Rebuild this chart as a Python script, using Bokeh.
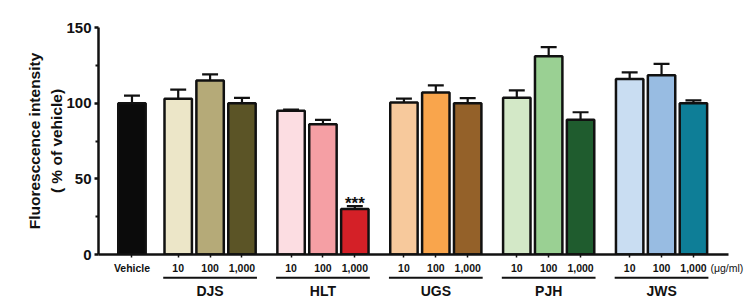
from bokeh.plotting import figure
from bokeh.layouts import column
from bokeh.models import Range1d, FixedTicker, ColumnDataSource
from bokeh.core.properties import value
from bokeh.embed import file_html
from bokeh.resources import INLINE

# ---- data -------------------------------------------------------------
groups = ["DJS", "HLT", "UGS", "PJH", "JWS"]
doses = ["10", "100", "1,000"]
unit_label = "(\u03bcg/ml)"

vehicle_mean = 100.0
vehicle_sem = 5.0

djs_mean = [103.0, 115.0, 100.0]
hlt_mean = [95.0, 86.0, 30.0]
ugs_mean = [100.5, 107.0, 100.0]
pjh_mean = [103.5, 131.0, 89.0]
jws_mean = [116.0, 118.5, 100.0]

djs_sem = [6.0, 4.0, 3.5]
hlt_sem = [0.8, 3.0, 2.0]
ugs_sem = [2.5, 4.8, 3.3]
pjh_sem = [5.0, 6.0, 5.0]
jws_sem = [4.4, 7.5, 1.8]

djs_sig = ["", "", ""]
hlt_sig = ["", "", "***"]
ugs_sig = ["", "", ""]
pjh_sig = ["", "", ""]
jws_sig = ["", "", ""]

vehicle_color = "#0b0b0b"
djs_colors = ["#ece6c8", "#b5aa78", "#5b5426"]
hlt_colors = ["#fcdde2", "#f59fa4", "#d42027"]
ugs_colors = ["#f7c99c", "#f9a54c", "#946129"]
pjh_colors = ["#d3e8c7", "#9ad093", "#1f5c2e"]
jws_colors = ["#c9ddf2", "#98bce2", "#0e7e97"]

# ---- layout of the bars along x (one bar slot = 100 units) ------------
SLOT = 100
FIRST_GROUP = 145      # vehicle -> first extract group
GROUP_STEP = 354       # three slots plus the gap between groups
BAR_W = 86
CAP_HALF = 25
X0, X1 = -105, 1871    # extent of the x baseline

W, H = 756, 300
LEFT, TOP = 98, 27
AXIS_PX = 630          # pixel length of the x baseline
TOP_H = 262            # chart panel; the label strip sits below it
AXIS_Y = 254           # canvas row of the baseline
INK = "#111111"
FONT = "Liberation Sans"

units_per_px = (X1 - X0) / AXIS_PX
X_END = X0 + (W - LEFT) * units_per_px   # frames run to the right edge

means = [djs_mean, hlt_mean, ugs_mean, pjh_mean, jws_mean]
sems = [djs_sem, hlt_sem, ugs_sem, pjh_sem, jws_sem]
sigs = [djs_sig, hlt_sig, ugs_sig, pjh_sig, jws_sig]
colors = [djs_colors, hlt_colors, ugs_colors, pjh_colors, jws_colors]

xs, tops, errs, fills, labels, stars = [0], [vehicle_mean], [vehicle_sem], [vehicle_color], ["Vehicle"], [""]
group_centers, group_lo, group_hi = [], [], []
for g, name in enumerate(groups):
    start = FIRST_GROUP + g * GROUP_STEP
    for i, d in enumerate(doses):
        xs.append(start + i * SLOT)
        tops.append(means[g][i])
        errs.append(sems[g][i])
        fills.append(colors[g][i])
        labels.append(d)
        stars.append(sigs[g][i])
    group_centers.append(start + SLOT)
    group_lo.append(start - 47)
    group_hi.append(start + 2 * SLOT + 47)

uppers = [t + e for t, e in zip(tops, errs)]
src = ColumnDataSource(dict(x=xs, top=tops, upper=uppers, fill=fills,
                            cap_l=[x - CAP_HALF for x in xs],
                            cap_r=[x + CAP_HALF for x in xs]))

# ---- main chart --------------------------------------------------------
p = figure(width=W, height=TOP_H, output_backend="svg", toolbar_location=None,
           x_range=Range1d(X0, X_END), y_range=Range1d(0, 150),
           min_border_left=LEFT, min_border_right=0, min_border_top=TOP,
           min_border_bottom=TOP_H - AXIS_Y)
p.outline_line_color = None
p.grid.visible = False

p.vbar(x="x", top="top", bottom=0, width=BAR_W, source=src,
       fill_color="fill", line_color=INK, line_width=2.5)

# upper error bars
p.segment(x0="x", y0="top", x1="x", y1="upper", source=src, line_color=INK, line_width=2.2)
p.segment(x0="cap_l", y0="upper", x1="cap_r", y1="upper", source=src, line_color=INK, line_width=2.2)

# significance marks
sig_x = [x for x, s in zip(xs, stars) if s]
sig_y = [u for u, s in zip(uppers, stars) if s]
sig_t = [s for s in stars if s]
p.text(x=sig_x, y=sig_y, text=sig_t, text_align="center", text_baseline="alphabetic",
       y_offset=-3, text_font=value(FONT), text_font_style="bold",
       text_font_size="17px", text_color=INK)

ya = p.yaxis[0]
ya.ticker = FixedTicker(ticks=[0, 50, 100, 150], minor_ticks=[25, 75, 125])
ya.axis_line_width = 2.5
ya.axis_line_color = INK
ya.major_tick_in = 0
ya.major_tick_out = 4
ya.major_tick_line_width = 2.5
ya.major_tick_line_color = INK
ya.minor_tick_in = 0
ya.minor_tick_out = 3
ya.minor_tick_line_width = 2
ya.minor_tick_line_color = INK
ya.major_label_text_font = FONT
ya.major_label_text_font_style = "bold"
ya.major_label_text_font_size = "15px"
ya.major_label_text_color = INK
ya.major_label_standoff = 3
ya.axis_label = "Fluoresccence intensity\n( % of vehicle)"
ya.axis_label_text_font = FONT
ya.axis_label_text_font_style = "bold"
ya.axis_label_text_font_size = "15.5px"
ya.axis_label_text_line_height = 1.3
ya.axis_label_text_color = INK
ya.axis_label_standoff = -2

# x axis: baseline with a short tick under each bar (labels go in the strip below)
xa = p.xaxis[0]
xa.bounds = (X0, X1)
xa.ticker = FixedTicker(ticks=[], minor_ticks=xs)
xa.axis_line_width = 2.5
xa.axis_line_color = INK
xa.major_tick_line_color = None
xa.minor_tick_in = 0
xa.minor_tick_out = 3
xa.minor_tick_line_width = 1.5
xa.minor_tick_line_color = INK

# ---- label strip under the chart --------------------------------------
strip_h = H - TOP_H
q = figure(width=W, height=strip_h, output_backend="svg", toolbar_location=None,
           x_range=Range1d(X0, X_END),
           y_range=Range1d(-(H - AXIS_Y), -(TOP_H - AXIS_Y)),
           min_border_left=LEFT, min_border_right=0, min_border_top=0, min_border_bottom=0,
           x_axis_type=None, y_axis_type=None)
q.outline_line_color = None
q.grid.visible = False

# dose labels (y counts pixels below the baseline)
q.text(x=xs, y=[-13.2] * len(xs), text=labels, text_align="center", text_baseline="middle",
       text_font=value(FONT), text_font_style="bold", text_font_size="10.5px", text_color=INK)
q.text(x=[xs[-1] + 17 * units_per_px], y=[-13.2], text=[unit_label], text_align="left",
       text_baseline="middle", text_font=value(FONT), text_font_size="10.5px", text_color=INK)

# extract group underlines and names
q.segment(x0=group_lo, y0=[-23.3] * len(groups), x1=group_hi, y1=[-23.3] * len(groups),
          line_color=INK, line_width=2)
q.text(x=group_centers, y=[-36] * len(groups), text=groups, text_align="center",
       text_baseline="middle", text_font=value(FONT), text_font_style="bold",
       text_font_size="14px", text_color=INK)

layout = column(p, q, spacing=0)
open("out.html", "w").write(file_html(layout, INLINE))
